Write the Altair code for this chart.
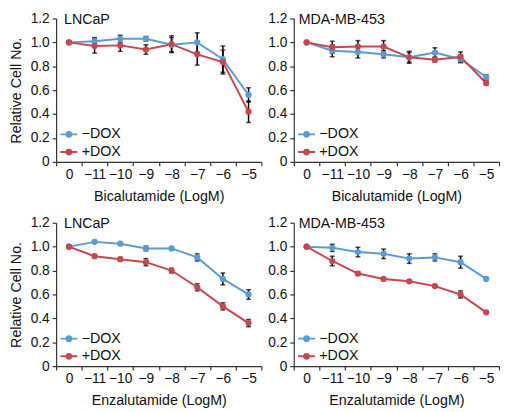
import altair as alt
import pandas as pd

doses = ["0", "\u221211", "\u221210", "\u22129", "\u22128", "\u22127", "\u22126", "\u22125"]
series = ["\u2212DOX", "+DOX"]
colors = ["#5b9bd5", "#c8474f"]

# panel 1: LNCaP, Bicalutamide
p1_minus = [1.00, 1.01, 1.03, 1.03, 0.98, 1.00, 0.86, 0.56]
p1_minus_err = [0.01, 0.03, 0.03, 0.02, 0.06, 0.08, 0.11, 0.06]
p1_plus = [1.00, 0.97, 0.975, 0.94, 0.985, 0.90, 0.835, 0.42]
p1_plus_err = [0.01, 0.06, 0.05, 0.04, 0.07, 0.09, 0.10, 0.09]
# panel 2: MDA-MB-453, Bicalutamide
p2_minus = [1.00, 0.93, 0.92, 0.90, 0.875, 0.915, 0.86, 0.71]
p2_minus_err = [0.01, 0.05, 0.05, 0.03, 0.04, 0.04, 0.03, 0.02]
p2_plus = [1.00, 0.96, 0.965, 0.965, 0.875, 0.855, 0.88, 0.66]
p2_plus_err = [0.01, 0.05, 0.05, 0.05, 0.05, 0.02, 0.04, 0.02]
# panel 3: LNCaP, Enzalutamide
p3_minus = [1.00, 1.04, 1.025, 0.985, 0.985, 0.91, 0.73, 0.60]
p3_minus_err = [0.01, 0.01, 0.01, 0.02, 0.01, 0.03, 0.05, 0.04]
p3_plus = [1.00, 0.92, 0.895, 0.87, 0.80, 0.66, 0.50, 0.36]
p3_plus_err = [0.01, 0.01, 0.015, 0.03, 0.02, 0.03, 0.03, 0.03]
# panel 4: MDA-MB-453, Enzalutamide
p4_minus = [1.00, 0.99, 0.955, 0.94, 0.90, 0.91, 0.87, 0.73]
p4_minus_err = [0.01, 0.03, 0.04, 0.04, 0.04, 0.03, 0.05, 0.01]
p4_plus = [1.00, 0.88, 0.775, 0.73, 0.71, 0.67, 0.60, 0.45]
p4_plus_err = [0.01, 0.04, 0.015, 0.01, 0.01, 0.01, 0.03, 0.01]

FONT = "Liberation Sans"


def frame(vm, em, vp, ep):
    rows = []
    for i, d in enumerate(doses):
        rows.append(dict(dose=d, s=series[0], v=vm[i], lo=vm[i] - em[i], hi=vm[i] + em[i]))
        rows.append(dict(dose=d, s=series[1], v=vp[i], lo=vp[i] - ep[i], hi=vp[i] + ep[i]))
    return pd.DataFrame(rows)


def panel(df, cell, drug, ytitle, tdx):
    x = alt.X("dose:N", sort=doses,
              scale=alt.Scale(type="band", paddingInner=0, paddingOuter=0),
              axis=alt.Axis(title=drug + " (LogM)", labelAngle=0, tickBand="extent",
                            labelPadding=2, titlePadding=8))
    yaxis = alt.Axis(title="Relative Cell No." if ytitle else None,
                     values=[0, 0.2, 0.4, 0.6, 0.8, 1.0, 1.2], labelOverlap=False,
                     labelExpr="datum.value == 0 ? '0' : format(datum.value, '.1f')",
                     grid=False, titlePadding=7, labelPadding=3)
    yscale = alt.Scale(domain=[0, 1.2], nice=False)
    y = alt.Y("v:Q", scale=yscale, axis=yaxis)
    color = alt.Color("s:N", sort=series,
                      scale=alt.Scale(domain=series, range=colors),
                      legend=alt.Legend(
                          title=None, orient="bottom-left", offset=3, padding=0,
                          symbolType="M-1,0L1,0M-0.28,0A0.28,0.28 0 1,1 0.28,0A0.28,0.28 0 1,1 -0.28,0Z",
                          symbolSize=300, symbolStrokeWidth=2, labelFontSize=14.5,
                          labelFont=FONT, labelColor="#111", rowPadding=1, labelOffset=3))
    base = alt.Chart(df)
    line = base.mark_line(strokeWidth=2).encode(x=x, y=y, color=color)
    pts = base.mark_point(filled=True, size=40, opacity=1).encode(x=x, y=y, color=color)
    err = base.mark_errorbar(ticks=alt.MarkConfig(size=5, color="black"),
                             rule=alt.MarkConfig(strokeWidth=1.5), color="black",
                             thickness=1.5).encode(
        x=x, y=alt.Y("lo:Q", scale=yscale, axis=yaxis), y2="hi:Q")
    return alt.layer(line, err, pts).properties(
        width=209, height=146,
        title=alt.TitleParams(cell, anchor="start", frame="group", dx=tdx, dy=16, fontSize=14.5,
                              fontWeight="normal", font=FONT, color="#111", offset=0))


c1 = panel(frame(p1_minus, p1_minus_err, p1_plus, p1_plus_err), "LNCaP", "Bicalutamide", True, 8)
c2 = panel(frame(p2_minus, p2_minus_err, p2_plus, p2_plus_err), "MDA-MB-453", "Bicalutamide", False, 5)
c3 = panel(frame(p3_minus, p3_minus_err, p3_plus, p3_plus_err), "LNCaP", "Enzalutamide", True, 8)
c4 = panel(frame(p4_minus, p4_minus_err, p4_plus, p4_plus_err), "MDA-MB-453", "Enzalutamide", False, 5)

chart = alt.vconcat(
    alt.hconcat(c1, c2, spacing=5).resolve_legend(color="independent").resolve_scale(color="independent"),
    alt.hconcat(c3, c4, spacing=5).resolve_legend(color="independent").resolve_scale(color="independent"),
    spacing=13,
).resolve_legend(color="independent").resolve_scale(color="independent").properties(
    padding={"left": 0, "top": 0, "right": 0, "bottom": 0}
).configure_view(
    stroke=None
).configure_axis(
    labelFont=FONT, titleFont=FONT, labelFontSize=14, titleFontSize=14.5,
    titleFontWeight="normal", labelColor="#111", titleColor="#111",
    domainColor="#333", tickColor="#333", tickSize=4, domainWidth=1.2, tickWidth=1.2
)

chart.save("out.html", embed_options={"renderer": "svg", "actions": False})
